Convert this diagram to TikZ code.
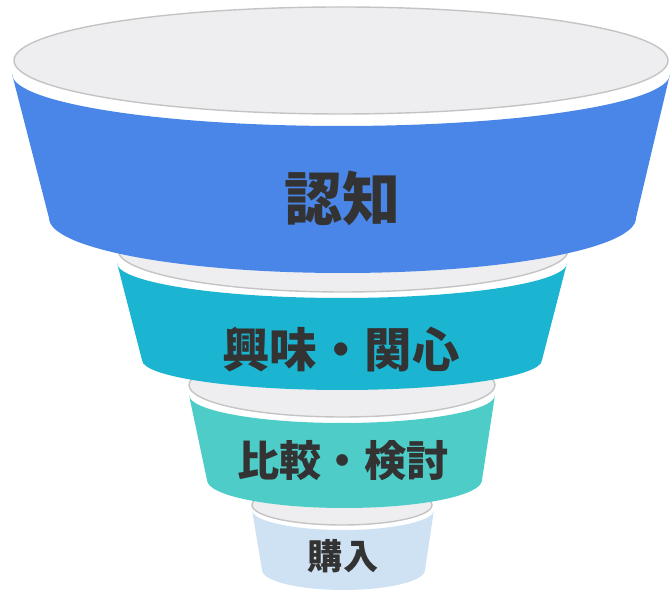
\documentclass[tikz,border=0pt]{standalone}
\usepackage{fontspec}
\newfontfamily\jpfont{Noto Sans CJK JP}
\usepackage{tikz}

\definecolor{lidgray}{HTML}{EEEEF0}
\definecolor{lidline}{HTML}{C4C4C4}
\definecolor{stageA}{HTML}{4A86E8}
\definecolor{stageB}{HTML}{1BB5D1}
\definecolor{stageC}{HTML}{4ECDC8}
\definecolor{stageD}{HTML}{CFE2F3}
\definecolor{labeltext}{HTML}{333333}

\begin{document}
\begin{tikzpicture}[x=0.02cm,y=0.02cm,
    lid/.style={fill=lidgray,draw=lidline,line width=0.8pt},
    label/.style={font=\jpfont\bfseries,text=labeltext,inner sep=0pt}]
        \useasboundingbox (0,0) rectangle (670,591);

        % purchase
        \fill[stageD] (252,81) arc[start angle=180,end angle=360,x radius=91,y radius=20]
            -- (425,21) arc[start angle=0,end angle=-180,x radius=81.5,y radius=20] -- cycle;
        \draw[lid] (342,86) ellipse[x radius=90,y radius=20];
        \node[label,font=\jpfont\bfseries\fontsize{20}{24}\selectfont] (buy) at (343,35) {購入};

        % compare / consider
        \fill[stageC] (189,196) arc[start angle=180,end angle=360,x radius=153,y radius=28]
            -- (482,111) arc[start angle=0,end angle=-180,x radius=137.5,y radius=28] -- cycle;
        \draw[lid] (342,206) ellipse[x radius=153,y radius=32];
        \node[label,font=\jpfont\bfseries\fontsize{24}{28}\selectfont] (consider) at (343,130) {比較・検討};

        % interest
        \fill[stageB] (117,328) arc[start angle=180,end angle=360,x radius=225,y radius=35]
            -- (542,231) arc[start angle=0,end angle=-180,x radius=200,y radius=30] -- cycle;
        \draw[lid] (343,341) ellipse[x radius=225,y radius=42];
        \node[label,font=\jpfont\bfseries\fontsize{27}{32}\selectfont] (interest) at (341,241) {興味・関心};

        % awareness
        \fill[stageA] (12,517) arc[start angle=180,end angle=360,x radius=329,y radius=52]
            -- (636,373) arc[start angle=0,end angle=-180,x radius=293.5,y radius=55] -- cycle;
        \draw[lid] (341,530.5) ellipse[x radius=327,y radius=53.5];
        \node[label,font=\jpfont\bfseries\fontsize{33}{38}\selectfont] (aware) at (342,393) {認知};

\end{tikzpicture}
\end{document}
